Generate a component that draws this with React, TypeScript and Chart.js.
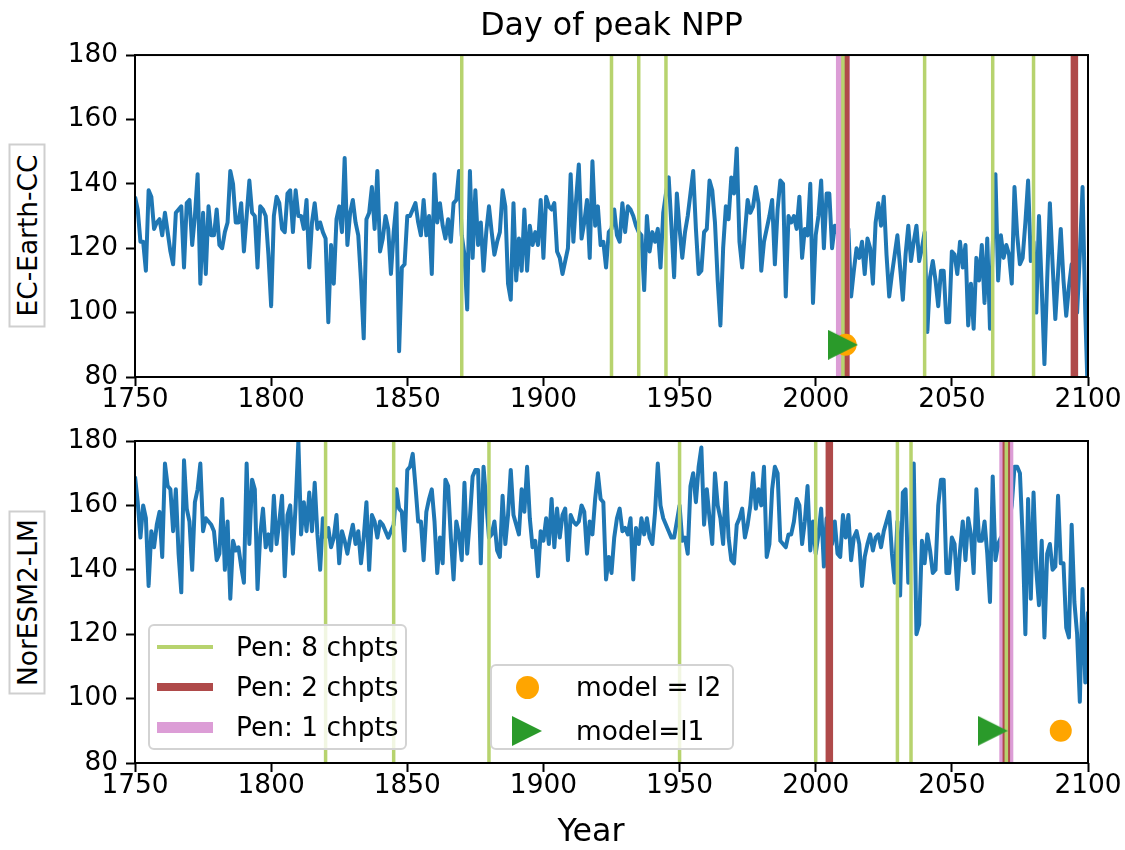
import React, { useEffect, useRef } from "react";
import { Chart, registerables } from "chart.js";
Chart.register(...registerables);

const FONT = "'DejaVu Sans', 'Liberation Sans', sans-serif";
const FIRST_YEAR = 1750;
const xTicks = [1750, 1800, 1850, 1900, 1950, 2000, 2050, 2100];
const yTicks = [80, 100, 120, 140, 160, 180];

// EC-Earth-CC, day of peak NPP, 1750..2100
const ecEarthCC = [
  136, 132, 122, 122, 113, 138, 136, 126, 128, 129,
  124, 131, 125, 119, 115, 131, 132, 133, 114, 134,
  135, 121, 130, 143, 109, 131, 112, 133, 124, 124,
  132, 121, 120, 125, 128, 144, 140, 128, 128, 134,
  119, 130, 141, 131, 130, 114, 133, 132, 130, 118,
  102, 130, 136, 134, 126, 125, 137, 138, 125, 138,
  130, 130, 126, 135, 114, 128, 134, 126, 128, 125,
  123, 97, 121, 109, 129, 133, 125, 148, 121, 131,
  135, 128, 124, 110, 92, 129, 131, 139, 126, 144,
  119, 123, 130, 126, 112, 125, 134, 88, 114, 115,
  130, 130, 132, 134, 128, 124, 135, 124, 130, 112,
  143, 128, 134, 127, 123, 129, 122, 134, 135, 144,
  124, 118, 101, 144, 117, 138, 121, 128, 113, 125,
  133, 125, 118, 122, 125, 138, 133, 109, 104, 134,
  110, 123, 113, 132, 113, 127, 121, 125, 121, 135,
  117, 136, 133, 132, 134, 119, 117, 112, 116, 120,
  143, 122, 135, 146, 123, 128, 135, 117, 147, 127,
  133, 121, 122, 114, 125, 126, 132, 124, 122, 134,
  125, 133, 132, 130, 127, 125, 124, 107, 130, 119,
  125, 122, 126, 114, 131, 137, 142, 127, 111, 137,
  126, 117, 125, 130, 137, 144, 126, 112, 113, 125,
  126, 141, 138, 128, 110, 96, 120, 133, 129, 142,
  137, 151, 122, 114, 125, 135, 131, 133, 139, 134,
  113, 122, 126, 130, 135, 115, 132, 141, 140, 105,
  130, 128, 130, 126, 136, 117, 126, 124, 140, 103,
  124, 130, 141, 120, 137, 137, 120, 127, 125, 122,
  118, 112, 126, 105, 113, 120, 117, 122, 112, 123,
  120, 109, 128, 134, 127, 136, 118, 105, 112, 118,
  124, 114, 104, 118, 127, 116, 122, 127, 116, 120,
  125, 94, 111, 116, 110, 102, 113, 113, 97, 97,
  119, 118, 112, 122, 114, 121, 96, 109, 95, 117,
  110, 121, 103, 123, 95, 120, 143, 110, 124, 117,
  121, 118, 109, 139, 124, 115, 117, 128, 141, 116,
  122, 100, 130, 108, 84, 110, 134, 115, 98, 112,
  126, 110, 99, 108, 115, 105, 100, 118, 139, 100,
  72,
];

// NorESM2-LM, day of peak NPP, 1750..2100
const norESM2LM = [
  169, 161, 150, 160, 156, 135, 152, 147, 154, 158,
  144, 173, 166, 165, 152, 165, 145, 133, 174, 159,
  155, 140, 161, 165, 173, 152, 156, 155, 154, 152,
  143, 145, 162, 140, 155, 131, 149, 146, 147, 141,
  136, 173, 148, 168, 165, 134, 151, 159, 147, 151,
  146, 163, 148, 155, 163, 138, 157, 160, 145, 160,
  180, 151, 161, 152, 164, 152, 167, 151, 140, 156,
  150, 153, 147, 150, 157, 142, 152, 149, 145, 150,
  154, 148, 152, 142, 150, 161, 140, 157, 155, 150,
  155, 154, 152, 150, 152, 154, 165, 159, 158, 146,
  171, 172, 176, 166, 155, 155, 143, 158, 162, 165,
  155, 139, 150, 142, 168, 166, 150, 137, 155, 151,
  143, 167, 145, 156, 169, 171, 171, 142, 172, 161,
  150, 151, 155, 146, 144, 163, 148, 157, 171, 157,
  154, 151, 165, 158, 172, 156, 147, 149, 138, 152,
  149, 156, 148, 162, 147, 159, 150, 157, 159, 143,
  157, 155, 154, 155, 160, 158, 145, 155, 151, 162,
  170, 162, 161, 137, 144, 139, 150, 156, 159, 152,
  153, 151, 156, 137, 153, 148, 156, 151, 156, 150,
  148, 158, 173, 160, 156, 154, 152, 150, 150, 155,
  160, 149, 150, 145, 166, 170, 161, 172, 178, 154,
  165, 156, 148, 170, 160, 156, 148, 167, 150, 143,
  142, 154, 156, 159, 150, 154, 160, 170, 159, 165,
  160, 172, 144, 148, 165, 172, 170, 149, 148, 147,
  151, 151, 155, 162, 160, 148, 155, 166, 146, 155,
  145, 151, 159, 141, 156, 152, 148, 155, 145, 144,
  157, 150, 157, 143, 150, 152, 148, 135, 144, 148,
  151, 146, 150, 151, 147, 152, 155, 158, 145, 136,
  155, 132, 164, 165, 136, 150, 173, 120, 123, 149,
  142, 151, 146, 139, 140, 160, 168, 168, 139, 139,
  150, 148, 134, 146, 155, 143, 156, 151, 139, 165,
  149, 149, 155, 145, 130, 169, 143, 148, 150, 140,
  135, 155, 160, 172, 172, 170, 150, 120, 162, 131,
  164, 140, 129, 149, 119, 145, 148, 140, 141, 163,
  142, 142, 122, 119, 154, 130, 120, 99, 134, 105,
  127,
];

// change points (years) per penalty
const ecPen8 = [1870, 1925, 1935, 1945, 2010, 2040, 2065, 2080];
const ecPen2 = [2011, 2095];
const ecPen1 = [2010];
const norPen8 = [1820, 1845, 1880, 1950, 2000, 2030, 2035, 2070];
const norPen2 = [2005, 2070];
const norPen1 = [2070];
// model markers (year)
const ecModelL2 = [2011];
const ecModelL1 = [2010];
const norModelL2 = [2090];
const norModelL1 = [2065];
const markerLevel = 90;

const legendLines = ["Pen: 8 chpts", "Pen: 2 chpts", "Pen: 1 chpts"];
const legendMarkers = ["model = l2", "model=l1"];

const BLUE = "#1f77b4";
const GREEN_LINE = "#b7d36e";
const RED_LINE = "#af4a4a";
const PINK_LINE = "#dc9dd6";
const ORANGE = "#ffa500";
const TRI_GREEN = "#2a9a2a";
const W = 1125;
const TICK_FONT = 26.4;

function triangleCanvas(size: number, color: string) {
  const c = document.createElement("canvas");
  c.width = size;
  c.height = size;
  const g = c.getContext("2d")!;
  g.fillStyle = color;
  g.beginPath();
  g.moveTo(0, 0);
  g.lineTo(size, size / 2);
  g.lineTo(0, size);
  g.closePath();
  g.fill();
  return c;
}

const framePlugin = {
  id: "frame",
  afterDatasetsDraw(chart: any) {
    const { ctx, chartArea: a } = chart;
    ctx.save();
    ctx.strokeStyle = "#000";
    ctx.lineWidth = 2;
    ctx.strokeRect(a.left, a.top, a.right - a.left, a.bottom - a.top);
    ctx.restore();
  },
};

type Panel = {
  values: number[];
  pen8: number[];
  pen2: number[];
  pen1: number[];
  l1: number[];
  l2: number[];
  height: number;
  padTop: number;
  xAxisHeight: number;
  title?: string;
};

function makeConfig(p: Panel): any {
  const series = p.values.map((v, i) => ({ x: FIRST_YEAR + i, y: v }));
  const vline = (yr: number, color: string, width: number) => ({
    data: [
      { x: yr, y: yTicks[0] },
      { x: yr, y: yTicks[yTicks.length - 1] },
    ],
    borderColor: color,
    borderWidth: width,
    pointRadius: 0,
    clip: 0,
    tension: 0,
  });
  const tri = triangleCanvas(30, TRI_GREEN);
  const datasets: any[] = [
    ...p.l1.map((yr) => ({
      data: [{ x: yr, y: markerLevel }],
      showLine: false,
      pointStyle: tri,
      pointRadius: 15,
      pointHoverRadius: 15,
    })),
    ...p.l2.map((yr) => ({
      data: [{ x: yr, y: markerLevel }],
      showLine: false,
      pointStyle: "circle",
      pointRadius: 11,
      pointHoverRadius: 11,
      pointBackgroundColor: ORANGE,
      pointBorderWidth: 0,
      pointBorderColor: ORANGE,
    })),
    ...p.pen8.map((yr) => vline(yr, GREEN_LINE, 3.5)),
    ...p.pen2.map((yr) => vline(yr, RED_LINE, 7.5)),
    ...p.pen1.map((yr) => vline(yr, PINK_LINE, 14)),
    {
      data: series,
      borderColor: BLUE,
      borderWidth: 4,
      pointRadius: 0,
      tension: 0,
      clip: 0,
      borderJoinStyle: "round",
    },
  ];
  const tickFont = { family: FONT, size: TICK_FONT, lineHeight: 1.1 };
  return {
    type: "line",
    data: { datasets },
    plugins: [framePlugin],
    options: {
      animation: false,
      responsive: false,
      events: [],
      layout: { padding: { left: 0, right: 37, top: p.padTop, bottom: 0 } },
      plugins: {
        legend: { display: false },
        tooltip: { enabled: false },
        title: p.title
          ? {
              display: true,
              fullSize: false,
              text: p.title,
              color: "#000",
              font: { family: FONT, size: 31.7, weight: "normal" },
              padding: { top: 8, bottom: 9 },
            }
          : { display: false },
      },
      scales: {
        x: {
          type: "linear",
          min: xTicks[0],
          max: xTicks[xTicks.length - 1],
          afterBuildTicks: (s: any) => {
            s.ticks = xTicks.map((v) => ({ value: v }));
          },
          afterFit: (s: any) => {
            s.height = p.xAxisHeight;
          },
          ticks: {
            font: tickFont,
            color: "#000",
            padding: 0,
            maxRotation: 0,
            autoSkip: false,
            callback: (v: any) => String(v),
          },
          grid: {
            drawOnChartArea: false,
            drawTicks: true,
            tickLength: 9,
            tickWidth: 2,
            tickColor: "#000",
          },
          border: { display: false },
        },
        y: {
          type: "linear",
          min: yTicks[0],
          max: yTicks[yTicks.length - 1],
          afterBuildTicks: (s: any) => {
            s.ticks = yTicks.map((v) => ({ value: v }));
          },
          afterFit: (s: any) => {
            s.width = 135;
          },
          ticks: {
            font: tickFont,
            color: "#000",
            padding: 8,
            callback: (v: any) => String(v),
          },
          grid: {
            drawOnChartArea: false,
            drawTicks: true,
            tickLength: 9,
            tickWidth: 2,
            tickColor: "#000",
          },
          border: { display: false },
        },
      },
    },
  };
}

function ChartCanvas({ panel, top }: { panel: Panel; top: number }) {
  const ref = useRef<HTMLCanvasElement>(null);
  useEffect(() => {
    const chart = new Chart(ref.current!, makeConfig(panel));
    return () => chart.destroy();
  }, []);
  return (
    <canvas
      ref={ref}
      width={W}
      height={panel.height}
      style={{ position: "absolute", left: 0, top, width: W, height: panel.height }}
    />
  );
}

function BoxedYLabel({ text, cx, cy }: { text: string; cx: number; cy: number }) {
  const w = 184;
  const h = 37;
  return (
    <div
      style={{
        position: "absolute",
        left: cx - w / 2,
        top: cy - h / 2,
        width: w,
        height: h,
        boxSizing: "border-box",
        border: "2px solid #cfcfcf",
        background: "#fff",
        transform: "rotate(-90deg)",
        display: "flex",
        alignItems: "center",
        justifyContent: "center",
        fontFamily: FONT,
        fontSize: TICK_FONT,
        color: "#000",
        whiteSpace: "nowrap",
      }}
    >
      {text}
    </div>
  );
}

const legendBox: React.CSSProperties = {
  position: "absolute",
  boxSizing: "border-box",
  border: "2px solid #d3d3d3",
  borderRadius: 6,
  background: "rgba(255,255,255,0.8)",
};
const legendText: React.CSSProperties = {
  position: "absolute",
  fontFamily: FONT,
  fontSize: TICK_FONT,
  color: "#000",
  whiteSpace: "nowrap",
  lineHeight: "30px",
  height: 30,
};

export default function App() {
  const topPanel: Panel = {
    values: ecEarthCC,
    pen8: ecPen8,
    pen2: ecPen2,
    pen1: ecPen1,
    l1: ecModelL1,
    l2: ecModelL2,
    height: 418,
    padTop: 0,
    xAxisHeight: 418 - 377,
    title: "Day of peak NPP",
  };
  const bottomPanel: Panel = {
    values: norESM2LM,
    pen8: norPen8,
    pen2: norPen2,
    pen1: norPen1,
    l1: norModelL1,
    l2: norModelL2,
    height: 432,
    padTop: 23,
    xAxisHeight: 432 - 345,
  };
  const lineColors = [GREEN_LINE, RED_LINE, PINK_LINE];
  const lineWidths = [3.5, 7.5, 11];
  const rowY = [647, 687, 727];
  return (
    <div style={{ position: "absolute", left: 0, top: 0, width: W, height: 850, background: "#fff", overflow: "hidden" }}>
      <ChartCanvas panel={topPanel} top={0} />
      <ChartCanvas panel={bottomPanel} top={418} />
      <BoxedYLabel text="EC-Earth-CC" cx={26.5} cy={235} />
      <BoxedYLabel text="NorESM2-LM" cx={26.5} cy={602} />
      <div
        style={{
          position: "absolute",
          left: 591 - 100,
          width: 200,
          top: 830 - 20,
          height: 40,
          lineHeight: "40px",
          textAlign: "center",
          fontFamily: FONT,
          fontSize: 31.7,
          color: "#000",
        }}
      >
        Year
      </div>
      <div style={{ ...legendBox, left: 148, top: 624, width: 259, height: 126 }} />
      {legendLines.map((t, i) => (
        <React.Fragment key={t}>
          <div
            style={{
              position: "absolute",
              left: 157,
              top: rowY[i] - lineWidths[i] / 2,
              width: 56,
              height: lineWidths[i],
              background: lineColors[i],
            }}
          />
          <div style={{ ...legendText, left: 236, top: rowY[i] - 15 }}>{t}</div>
        </React.Fragment>
      ))}
      <div style={{ ...legendBox, left: 490, top: 664, width: 244, height: 86 }} />
      <div
        style={{
          position: "absolute",
          left: 527 - 11.5,
          top: 687 - 11.5,
          width: 23,
          height: 23,
          borderRadius: "50%",
          background: ORANGE,
        }}
      />
      <svg style={{ position: "absolute", left: 527 - 15, top: 731 - 15 }} width={30} height={30}>
        <polygon points="0,0 30,15 0,30" fill={TRI_GREEN} />
      </svg>
      <div style={{ ...legendText, left: 576, top: 687 - 15 }}>{legendMarkers[0]}</div>
      <div style={{ ...legendText, left: 576, top: 731 - 15 }}>{legendMarkers[1]}</div>
    </div>
  );
}
